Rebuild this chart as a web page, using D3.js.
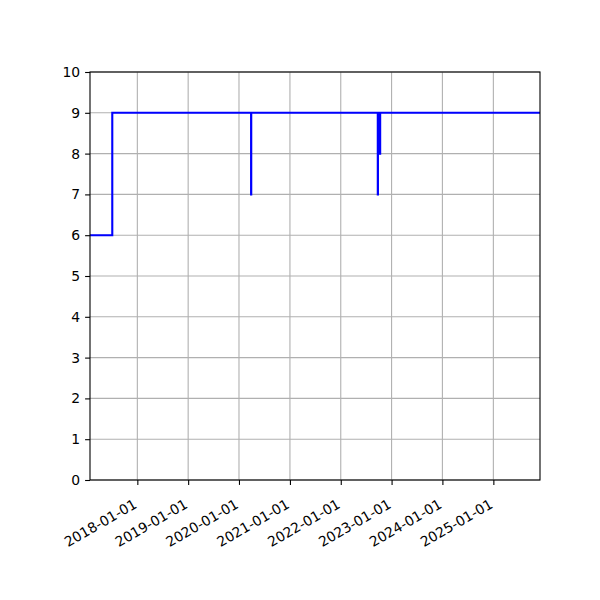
<!DOCTYPE html>
<meta charset="utf-8">
<head>
    <style>
        body {
            margin: 0;
            background-color: #ffffff;
        }
        text {
            font-family: "DejaVu Sans";
            font-size: 13.9px;
            fill: black;
        }
        .grid line {
            stroke: #b0b0b0;
            stroke-width: 1.1px;
        }
        .axis path, .axis line {
            stroke: black;
            stroke-width: 1.1px;
        }
        .series {
            fill: none;
            stroke: #0000ff;
            stroke-width: 2.1px;
        }
    </style>
    <script src="https://d3js.org/d3.v7.min.js"></script>
</head>

<body>
<div id="chart"></div>
</body>

<script>
// data: step series, value holds until the next date
var dates = ["2017-01-26", "2017-07-05", "2020-03-28", "2020-03-29",
             "2022-09-24", "2022-09-25", "2022-09-30", "2022-10-01",
             "2022-10-03", "2022-10-04", "2022-10-06", "2022-10-07",
             "2022-10-10", "2022-10-11", "2025-12-02"];
var values = [6, 9, 7, 9,
              7, 9, 8, 9,
              8, 9, 8, 9,
              8, 9, 9];
var xTicks = ["2018-01-01", "2019-01-01", "2020-01-01", "2021-01-01",
              "2022-01-01", "2023-01-01", "2024-01-01", "2025-01-01"];
var yTicks = [0, 1, 2, 3, 4, 5, 6, 7, 8, 9, 10];

var parse = d3.timeParse("%Y-%m-%d");
var data = dates.map(function (d, i) { return { date: parse(d), value: values[i] } });

var margin = { top: 72, right: 60, bottom: 120, left: 90 };
var width = 600 - margin.left - margin.right;
var height = 600 - margin.top - margin.bottom;

var svg = d3.select("#chart").append("svg")
    .attr("width", 600)
    .attr("height", 600)
    .append("g")
    .attr("transform", "translate(" + margin.left + "," + margin.top + ")");

var x = d3.scaleUtc()
    .domain(d3.extent(data, function (d) { return d.date }))
    .range([0, width]);

var y = d3.scaleLinear()
    .domain([0, 10])
    .range([height, 0]);

var tickDates = xTicks.map(function (d) { return parse(d) });

// grid
svg.append("g").attr("class", "grid")
    .selectAll("line.v").data(tickDates).enter().append("line")
    .attr("x1", function (d) { return x(d) }).attr("x2", function (d) { return x(d) })
    .attr("y1", 0).attr("y2", height);

svg.append("g").attr("class", "grid")
    .selectAll("line.h").data(yTicks).enter().append("line")
    .attr("x1", 0).attr("x2", width)
    .attr("y1", function (d) { return y(d) }).attr("y2", function (d) { return y(d) });

// the line
var line = d3.line()
    .curve(d3.curveStepAfter)
    .x(function (d) { return x(d.date) })
    .y(function (d) { return y(d.value) });

svg.append("path")
    .datum(data)
    .attr("class", "series")
    .attr("d", line);

// frame
svg.append("rect")
    .attr("width", width).attr("height", height)
    .attr("fill", "none").attr("stroke", "black").attr("stroke-width", 1.1);

// axes
var yAxis = svg.append("g").attr("class", "axis")
    .call(d3.axisLeft(y).tickValues(yTicks).tickSize(4.9).tickPadding(4.9).tickFormat(d3.format("d")));
yAxis.select(".domain").remove();

var xAxis = svg.append("g").attr("class", "axis")
    .attr("transform", "translate(0," + height + ")")
    .call(d3.axisBottom(x).tickValues(tickDates).tickSize(4.9).tickFormat(d3.utcFormat("%Y-%m-%d")));
xAxis.select(".domain").remove();

// rotated date labels, right end under the tick
xAxis.selectAll("text")
    .attr("y", null).attr("dy", null)
    .attr("text-anchor", "end")
    .attr("transform", "translate(0,27) rotate(-30)");

d3.selectAll(".axis").attr("font-size", null).attr("font-family", null);
</script>
